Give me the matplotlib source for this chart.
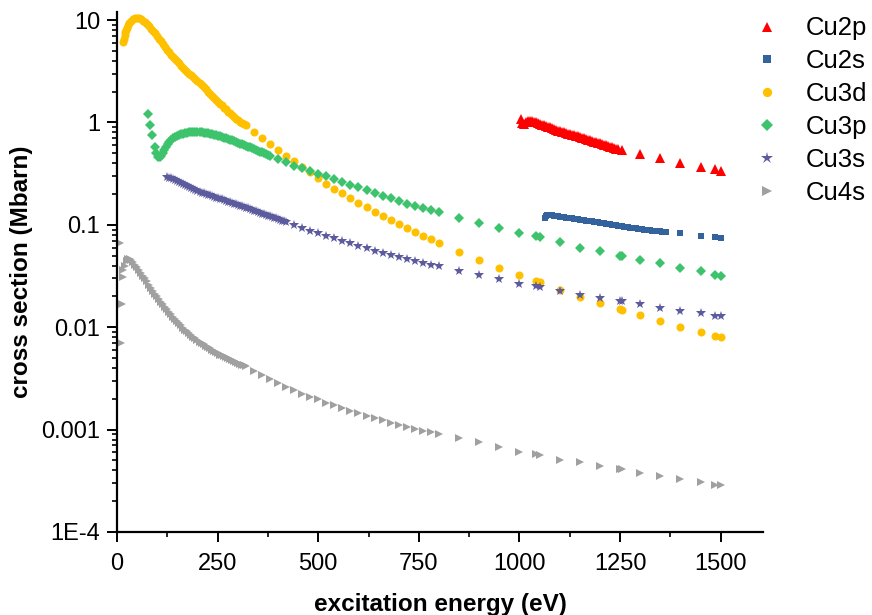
import numpy as np
import matplotlib
matplotlib.use("Agg")
import matplotlib.pyplot as plt
from matplotlib.ticker import LogLocator, FixedLocator, NullFormatter

plt.rcParams['font.family'] = ['Liberation Sans', 'DejaVu Sans']

# photoionisation cross sections of copper levels (Mbarn) vs photon energy (eV)
cu2p_e = [1003, 1006, 1010, 1015, 1020, 1025, 1030, 1035, 1040, 1045, 1050, 1055,
          1060, 1065, 1070, 1075, 1080, 1085, 1090, 1095, 1100, 1105, 1110, 1115,
          1120, 1125, 1130, 1135, 1140, 1145, 1150, 1155, 1160, 1165, 1170, 1175,
          1180, 1185, 1190, 1195, 1200, 1205, 1210, 1215, 1220, 1225, 1230, 1235,
          1240, 1245,
          1253.6, 1300, 1350, 1400, 1450, 1486.6, 1500]
cu2p_v = [1.08, 0.99, 0.97, 1.0, 1.03, 1.04, 1.03, 1.015, 1.0, 0.985, 0.97, 0.955,
          0.94, 0.925, 0.91, 0.895, 0.88, 0.865, 0.85, 0.835, 0.82, 0.81, 0.80, 0.79,
          0.78, 0.77, 0.76, 0.75, 0.74, 0.73, 0.72, 0.71, 0.70, 0.69, 0.68, 0.67,
          0.66, 0.65, 0.64, 0.632, 0.625, 0.615, 0.605, 0.597, 0.59, 0.582, 0.575,
          0.565, 0.555, 0.545,
          0.537, 0.49, 0.445, 0.405, 0.37, 0.348, 0.338]

cu2s_e = [1063, 1066, 1069, 1072, 1076, 1080, 1085, 1090, 1095, 1100, 1105, 1110,
          1115, 1120, 1125, 1130, 1135, 1140, 1145, 1150, 1155, 1160, 1165, 1170,
          1175, 1180, 1185, 1190, 1195, 1200, 1205, 1210, 1215, 1220, 1225, 1230,
          1235, 1240, 1245, 1250, 1255, 1260, 1265, 1270, 1275, 1280, 1285, 1290,
          1295, 1300, 1305, 1310, 1315, 1320, 1325, 1330, 1335, 1340, 1345, 1350,
          1355, 1360, 1365,
          1400, 1450, 1486.6, 1500]
cu2s_v = [0.117, 0.121, 0.124, 0.125, 0.1245, 0.124, 0.123, 0.122, 0.121, 0.120,
          0.119, 0.1185, 0.1178, 0.117, 0.1162, 0.1155, 0.1148, 0.114, 0.1132,
          0.1125, 0.1118, 0.111, 0.1102, 0.1095, 0.1088, 0.108, 0.1072, 0.1065,
          0.1058, 0.105, 0.1042, 0.1035, 0.1028, 0.102, 0.1012, 0.1005, 0.0998,
          0.099, 0.0982, 0.0975, 0.0968, 0.096, 0.0954, 0.0948, 0.0942, 0.0936,
          0.093, 0.0924, 0.0918, 0.0912, 0.0906, 0.09, 0.0895, 0.0889, 0.0884,
          0.0878, 0.0873, 0.0868, 0.0865, 0.0862, 0.086, 0.0858, 0.0857,
          0.0826, 0.078, 0.0755, 0.0749]

cu3d_e = [15, 17, 19, 21, 23, 25, 28, 31, 35, 40, 45, 50, 55, 60, 65, 70, 75, 80,
          85, 90, 95, 100, 105, 110, 115, 120, 125, 130, 135, 140, 145, 150, 155,
          160, 165, 170, 175, 180, 185, 190, 195, 200, 205, 210, 215, 220, 225, 230,
          235, 240, 245, 250, 255, 260, 265, 270, 275, 280, 285, 290, 295, 300, 305,
          310, 315, 320,
          340, 360, 380, 400, 420, 440, 460, 480, 500, 520, 540, 560, 580, 600, 620,
          640, 660, 680, 700, 720, 740, 760, 780, 800,
          850, 900, 950, 1000, 1041, 1050, 1100, 1150, 1200, 1250, 1253.6, 1300,
          1350, 1400, 1450, 1486.6, 1500]
cu3d_v = [6.1, 6.6, 7.1, 7.6, 8.0, 8.4, 8.9, 9.4, 9.8, 10.2, 10.4, 10.45, 10.4, 10.2,
          9.9, 9.5, 9.1, 8.7, 8.25, 7.8, 7.4, 7.0, 6.6, 6.2, 5.8, 5.45, 5.15, 4.85,
          4.6, 4.4, 4.15, 3.95, 3.78, 3.6, 3.42, 3.25, 3.12, 3.0, 2.89, 2.78, 2.66,
          2.55, 2.43, 2.32, 2.21, 2.1, 2.0, 1.9, 1.81, 1.73, 1.66, 1.6, 1.53, 1.47,
          1.4, 1.34, 1.28, 1.23, 1.18, 1.13, 1.09, 1.05, 1.02, 0.99, 0.965, 0.94,
          0.81, 0.71, 0.62, 0.54, 0.47, 0.42, 0.37, 0.325, 0.285, 0.252, 0.226, 0.203,
          0.182, 0.164, 0.149, 0.135, 0.122, 0.111, 0.101, 0.093, 0.085, 0.078, 0.072,
          0.066,
          0.0547, 0.0453, 0.0381, 0.0324, 0.0282, 0.0274, 0.0231, 0.0199, 0.0171,
          0.015, 0.0148, 0.0131, 0.0114, 0.0101, 0.0089, 0.0082, 0.008]

cu3p_e = [78, 82, 88, 94, 98, 102, 106, 110, 114, 118, 122, 126, 130, 135, 140, 145,
          150, 155, 160, 165, 170, 175, 180, 185, 190, 195, 200, 205, 210, 215, 220,
          225, 230, 235, 240, 245, 250, 255, 260, 265, 270, 275, 280, 285, 290, 295,
          300, 305, 310, 315, 320, 325, 330, 335, 340, 345, 350, 355, 360, 365, 370,
          375, 380,
          400, 420, 440, 460, 480, 500, 520, 540, 560, 580, 600, 620, 640, 660, 680,
          700, 720, 740, 760, 780, 800,
          850, 900, 950, 1000, 1041, 1050, 1100, 1150, 1200, 1250, 1253.6, 1300,
          1350, 1400, 1450, 1486.6, 1500]
cu3p_v = [1.21, 0.94, 0.75, 0.58, 0.5, 0.46, 0.455, 0.47, 0.5, 0.54, 0.58, 0.62,
          0.65, 0.68, 0.70, 0.72, 0.74, 0.755, 0.77, 0.78, 0.79, 0.795, 0.80, 0.805,
          0.81, 0.81, 0.81, 0.805, 0.80, 0.795, 0.79, 0.783, 0.775, 0.768, 0.76,
          0.75, 0.74, 0.73, 0.72, 0.71, 0.70, 0.69, 0.68, 0.67, 0.66, 0.647, 0.635,
          0.622, 0.61, 0.6, 0.59, 0.58, 0.57, 0.56, 0.55, 0.54, 0.53, 0.52, 0.51,
          0.5, 0.49, 0.48, 0.47,
          0.44, 0.41, 0.38, 0.356, 0.333, 0.315, 0.298, 0.28, 0.265, 0.247, 0.232,
          0.218, 0.205, 0.193, 0.181, 0.17, 0.161, 0.153, 0.146, 0.14, 0.134,
          0.117, 0.104, 0.093, 0.084, 0.078, 0.0755, 0.0675, 0.06, 0.055, 0.05,
          0.0497, 0.0457, 0.042, 0.0382, 0.0352, 0.0326, 0.0319]

cu3s_e = [125, 130, 135, 140, 145, 150, 155, 160, 165, 170, 175, 180, 185, 190, 195,
          200, 205, 210, 215, 220, 225, 230, 235, 240, 245, 250, 255, 260, 265, 270,
          275, 280, 285, 290, 295, 300, 305, 310, 315, 320, 325, 330, 335, 340, 345,
          350, 355, 360, 365, 370, 375, 380, 385, 390, 395, 400, 405, 410, 415, 420,
          440, 460, 480, 500, 520, 540, 560, 580, 600, 620, 640, 660, 680, 700, 720,
          740, 760, 780, 800,
          850, 900, 950, 1000, 1041, 1050, 1100, 1150, 1200, 1250, 1253.6, 1300,
          1350, 1400, 1450, 1486.6, 1500]
cu3s_v = [0.295, 0.29, 0.284, 0.278, 0.272, 0.266, 0.26, 0.254, 0.248, 0.243, 0.237,
          0.232, 0.227, 0.222, 0.217, 0.213, 0.21, 0.207, 0.203, 0.2, 0.197, 0.194,
          0.191, 0.188, 0.185, 0.182, 0.18, 0.177, 0.174, 0.171, 0.168, 0.166,
          0.163, 0.161, 0.159, 0.157, 0.154, 0.152, 0.149, 0.147, 0.145, 0.143,
          0.14, 0.138, 0.136, 0.134, 0.131, 0.129, 0.127, 0.125, 0.123, 0.121,
          0.12, 0.118, 0.116, 0.114, 0.112, 0.11, 0.108, 0.107,
          0.0995, 0.094, 0.088, 0.0826, 0.0785, 0.0745, 0.07, 0.066, 0.062, 0.059,
          0.056, 0.0535, 0.0508, 0.048, 0.0462, 0.0443, 0.0426, 0.041, 0.0396,
          0.0356, 0.0324, 0.0294, 0.0267, 0.0252, 0.0245, 0.0227, 0.0208, 0.0192,
          0.018, 0.0179, 0.0167, 0.0155, 0.0145, 0.0137, 0.013, 0.0128]

cu4s_e = [8, 10, 12, 14, 16, 20, 24, 28, 32, 36, 40, 45, 50, 55, 60, 65, 70, 75, 80,
          85, 90, 95, 100, 105, 110, 115, 120, 125, 130, 135, 140, 145, 150, 155,
          160, 165, 170, 175, 180, 185, 190, 195, 200, 205, 210, 215, 220, 225, 230,
          235, 240, 245, 250, 255, 260, 265, 270, 275, 280, 285, 290, 295, 300, 305,
          310, 315, 320,
          340, 360, 380, 400, 420, 440, 460, 480, 500, 520, 540, 560, 580, 600, 620,
          640, 660, 680, 700, 720, 740, 760, 780, 800,
          850, 900, 950, 1000, 1041, 1050, 1100, 1150, 1200, 1250, 1253.6, 1300,
          1350, 1400, 1450, 1486.6, 1500]
cu4s_v = [0.066, 0.007, 0.017, 0.031, 0.036, 0.040, 0.044, 0.046, 0.046, 0.045,
          0.043, 0.041, 0.039, 0.0365, 0.034, 0.032, 0.030, 0.028, 0.026, 0.024,
          0.0225, 0.021, 0.020, 0.0189, 0.0178, 0.0168, 0.0158, 0.015, 0.0142,
          0.0134, 0.0127, 0.0121, 0.0115, 0.0109, 0.0104, 0.0099, 0.0095, 0.0091,
          0.0087, 0.0084, 0.0081, 0.0078, 0.0075, 0.0072, 0.007, 0.0068, 0.0066,
          0.0064, 0.0062, 0.006, 0.0059, 0.0057, 0.0056, 0.0054, 0.0053, 0.0052,
          0.0051, 0.005, 0.0049, 0.0048, 0.0047, 0.0046, 0.0045, 0.0044, 0.0043,
          0.00425, 0.0042,
          0.0037, 0.0034, 0.00309, 0.00284, 0.00262, 0.00243, 0.00225, 0.0021,
          0.00197, 0.00184, 0.00173, 0.00163, 0.00153, 0.00145, 0.00137, 0.0013,
          0.00123, 0.00117, 0.00112, 0.00107, 0.00102, 0.00098, 0.00094, 0.00091,
          0.00082, 0.00075, 0.00067, 0.00061, 0.00058, 0.00057, 0.00051, 0.00048,
          0.00044, 0.00041, 0.00041, 0.00038, 0.00035, 0.00033, 0.00031, 0.00029,
          0.00029]

series = [
    ("Cu2p", cu2p_e, cu2p_v, "^", 6.5, "#ff0000"),
    ("Cu2s", cu2s_e, cu2s_v, "s", 5.0, "#33629d"),
    ("Cu3d", cu3d_e, cu3d_v, "o", 5.8, "#ffc000"),
    ("Cu3p", cu3p_e, cu3p_v, "D", 5.2, "#3cc36c"),
    ("Cu3s", cu3s_e, cu3s_v, "*", 7.5, "#5c5b9e"),
    ("Cu4s", cu4s_e, cu4s_v, ">", 6.2, "#a0a0a0"),
]

fig = plt.figure(figsize=(8.72, 6.15), dpi=100)
ax = fig.add_axes([117 / 872, 1 - 532 / 615, (763 - 117) / 872, (532 - 12) / 615])

for name, e, v, mk, ms, col in series:
    ax.plot(e, v, ls="none", marker=mk, ms=ms, color=col, mec=col, mew=0, label=name)

ax.set_yscale("log")
ax.set_xlim(0, 1605)
ax.set_ylim(1e-4, 12)

ax.xaxis.set_major_locator(FixedLocator([0, 250, 500, 750, 1000, 1250, 1500]))
ax.xaxis.set_minor_locator(FixedLocator([125, 375, 625, 875, 1125, 1375]))
ax.yaxis.set_major_locator(FixedLocator([1e-4, 1e-3, 1e-2, 1e-1, 1, 10]))
ax.yaxis.set_minor_locator(LogLocator(base=10, subs=np.arange(2, 10), numticks=20))
ax.yaxis.set_minor_formatter(NullFormatter())
ax.set_yticklabels(["1E-4", "0.001", "0.01", "0.1", "1", "10"])

for side in ["top", "right"]:
    ax.spines[side].set_visible(False)
for side in ["left", "bottom"]:
    ax.spines[side].set_linewidth(1.6)

ax.tick_params(which="major", length=7, width=1.4, labelsize=17)
ax.tick_params(which="minor", length=3.5, width=1.2)
ax.tick_params(axis="x", which="major", pad=8)
ax.tick_params(axis="y", which="major", pad=5)

ax.set_xlabel("excitation energy (eV)", fontsize=17.5, fontweight="bold", labelpad=13)
ax.set_ylabel("cross section (Mbarn)", fontsize=17.5, fontweight="bold", labelpad=6)

fig.legend(loc="upper left", bbox_to_anchor=(752 / 872, 1 - 16.5 / 615), frameon=False,
           fontsize=18.5, handlelength=1.2, handletextpad=0.9, labelspacing=0.35,
           borderaxespad=0, borderpad=0, markerscale=1.15)

fig.savefig("out.png", dpi=100)
